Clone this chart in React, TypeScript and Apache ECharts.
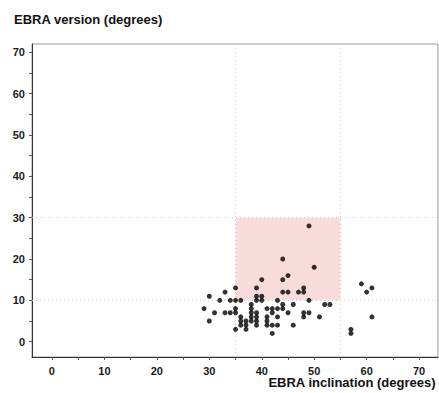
import React, { useEffect, useRef } from "react";
import * as echarts from "echarts";

const inclination: number[] = [
  30, 33, 35, 39, 40, 39, 40, 32, 34, 35, 36, 39, 40, 43, 49, 44, 45, 47, 48, 48, 44, 45, 50, 44, 49, 59, 60, 61,
  29, 31, 30, 33, 34, 35, 35, 35,
  36, 36, 36,
  37, 37, 37,
  38, 38, 38, 38, 38,
  39, 39, 39, 39,
  41, 41, 41, 41,
  42, 42, 42, 42,
  43, 43, 43,
  44, 44,
  45,
  46, 46,
  48, 48,
  49,
  51,
  52, 53,
  57, 57,
  61,
];
const version: number[] = [
  11, 12, 13, 13, 15, 11, 11, 10, 10, 10, 10, 10, 10, 10, 10, 12, 12, 12, 12, 13, 15, 16, 18, 20, 28, 14, 12, 13,
  8, 7, 5, 7, 7, 8, 7, 3,
  6, 5, 4,
  5, 4, 3,
  9, 8, 7, 6, 5,
  7, 6, 5, 4,
  8, 6, 5, 4,
  8, 7, 4, 2,
  8, 6, 4,
  9, 8,
  7,
  9, 4,
  7, 6,
  7,
  6,
  9, 9,
  3, 2,
  6,
];

const labelTicks: number[] = [0, 10, 20, 30, 40, 50, 60, 70];
const minorTicks: number[] = [0, 5, 10, 15, 20, 25, 30, 35, 40, 45, 50, 55, 60, 65, 70];
const refX: number[] = [35, 55];
const refY: number[] = [10, 30];

export default function App() {
  const ref = useRef<HTMLDivElement>(null);
  useEffect(() => {
    if (!ref.current) return;
    document.body.style.margin = "0";
    const chart = echarts.init(ref.current, undefined, { renderer: "svg" });
    const font = "'Liberation Sans', Arial, Helvetica, sans-serif";
    const axisCommon = (min: number, max: number, margin: number) => ({
      type: "value" as const,
      min,
      max,
      axisLine: { show: true, onZero: false, lineStyle: { color: "#333", width: 1 } },
      axisTick: {
        show: true,
        length: 3,
        customValues: minorTicks,
        lineStyle: { color: "#555" },
      },
      axisLabel: {
        customValues: labelTicks,
        color: "#1a1a1a",
        fontSize: 11,
        fontWeight: "bold" as const,
        fontFamily: font,
        margin,
      },
      splitLine: { show: false },
    });
    const data = inclination.map((x, i) => [x, version[i]]);
    chart.setOption({
      animation: false,
      grid: {
        left: 32,
        top: 44,
        right: 1,
        bottom: 36,
        show: true,
        borderColor: "#999",
        borderWidth: 1,
        backgroundColor: "transparent",
      },
      xAxis: axisCommon(-3.8, 73.6, 8),
      yAxis: axisCommon(-3.7, 72, 7),
      graphic: [
        {
          type: "text",
          left: 14,
          top: 13,
          style: {
            text: "EBRA version (degrees)",
            fontSize: 13,
            fontWeight: "bold",
            fontFamily: font,
            fill: "#111",
          },
        },
        {
          type: "text",
          right: 3,
          top: 376,
          style: {
            text: "EBRA inclination (degrees)",
            fontSize: 13,
            fontWeight: "bold",
            fontFamily: font,
            fill: "#111",
          },
        },
      ],
      series: [
        {
          type: "scatter",
          data,
          symbol: "circle",
          symbolSize: 5,
          itemStyle: { color: "#000" },
          z: 5,
          markArea: {
            silent: true,
            itemStyle: { color: "#f8dcdc" },
            data: [[{ xAxis: refX[0], yAxis: refY[0] }, { xAxis: refX[1], yAxis: refY[1] }]],
          },
          markLine: {
            silent: true,
            symbol: ["none", "none"],
            label: { show: false },
            lineStyle: { color: "#d0d0d0", type: [1, 3], width: 1 },
            data: [
              ...refX.map((v) => ({ xAxis: v })),
              ...refY.map((v) => ({ yAxis: v })),
            ],
          },
        },
      ],
    });
    return () => chart.dispose();
  }, []);
  return <div ref={ref} style={{ width: 439, height: 393 }} />;
}
